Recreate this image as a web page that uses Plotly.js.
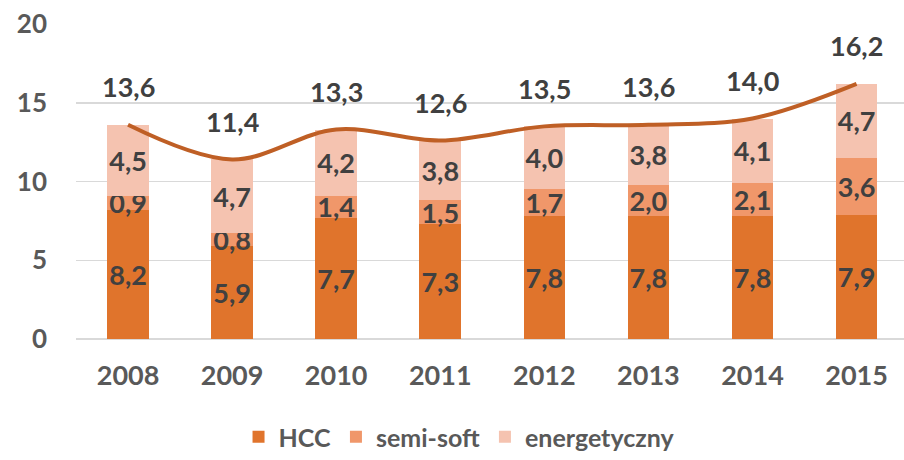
<!DOCTYPE html>
<html>
<head>
<meta charset="utf-8">
<script src="https://cdn.plot.ly/plotly-3.0.1.min.js"></script>
<style>html,body{margin:0;padding:0;background:#fff;}#chart{width:904px;height:460px;}</style>
</head>
<body>
<div id="chart"></div>
<script>
const years = ['2008','2009','2010','2011','2012','2013','2014','2015'];
const hcc = [8.2, 5.9, 7.7, 7.3, 7.8, 7.8, 7.8, 7.9];
const semiSoft = [0.9, 0.8, 1.4, 1.5, 1.7, 2.0, 2.1, 3.6];
const energetyczny = [4.5, 4.7, 4.2, 3.8, 4.0, 3.8, 4.1, 4.7];
const totals = [13.6, 11.4, 13.3, 12.6, 13.5, 13.6, 14.0, 16.2];
const seriesNames = ['HCC', 'semi-soft', 'energetyczny'];

const fmt = v => v.toFixed(1).replace('.', ',');
const font = 'Lato, "Open Sans", sans-serif';
const colors = ['#E0742C', '#F0976A', '#F5C3B0'];
const labelFont = {family: font, size: 27, color: '#404040', weight: 700};

const barData = [hcc, semiSoft, energetyczny].map((vals, i) => ({
  type: 'bar', name: seriesNames[i], x: years, y: vals,
  marker: {color: colors[i]},
  text: vals.map(fmt), textposition: 'inside', insidetextanchor: 'middle',
  textangle: 0, textfont: labelFont, constraintext: 'none', cliponaxis: false,
  hoverinfo: 'skip'
}));

const line = {
  type: 'scatter', mode: 'lines', x: years, y: totals, showlegend: false,
  line: {color: '#BF5F25', width: 4, shape: 'spline', smoothing: 1},
  hoverinfo: 'skip', cliponaxis: false
};

const annotations = years.map((yr, i) => ({
  xref: 'x', yref: 'y', x: i, y: totals[i], text: fmt(totals[i]), showarrow: false,
  yshift: 38, font: labelFont
}));

const layout = {
  width: 904, height: 460,
  margin: {l: 76, r: 0, t: 24, b: 119},
  barmode: 'stack', bargap: 0.6,
  plot_bgcolor: '#fff', paper_bgcolor: '#fff',
  xaxis: {
    type: 'category', range: [-0.5, 7.456], showgrid: false, showline: false,
    ticks: '', tickfont: {family: font, size: 27, color: '#595959', weight: 700},
    ticklabelstandoff: 18, fixedrange: true
  },
  yaxis: {
    range: [0, 20], dtick: 5, showgrid: true, gridcolor: '#D9D9D9', gridwidth: 1.5,
    zeroline: true, zerolinecolor: '#D9D9D9', zerolinewidth: 1.5, showline: false,
    ticks: '', tickfont: {family: font, size: 26, color: '#595959', weight: 700},
    ticklabelstandoff: 28, fixedrange: true
  },
  legend: {
    orientation: 'h', x: 0.4626, xanchor: 'center', y: -0.24, yanchor: 'top',
    font: {family: font, size: 25, color: '#595959', weight: 700},
    itemwidth: 30, traceorder: 'normal'
  },
  uniformtext: {mode: 'show', minsize: 27},
  annotations: annotations,
  showlegend: true
};

Plotly.newPlot('chart', [...barData, line], layout, {displayModeBar: false, staticPlot: true});
</script>
</body>
</html>
